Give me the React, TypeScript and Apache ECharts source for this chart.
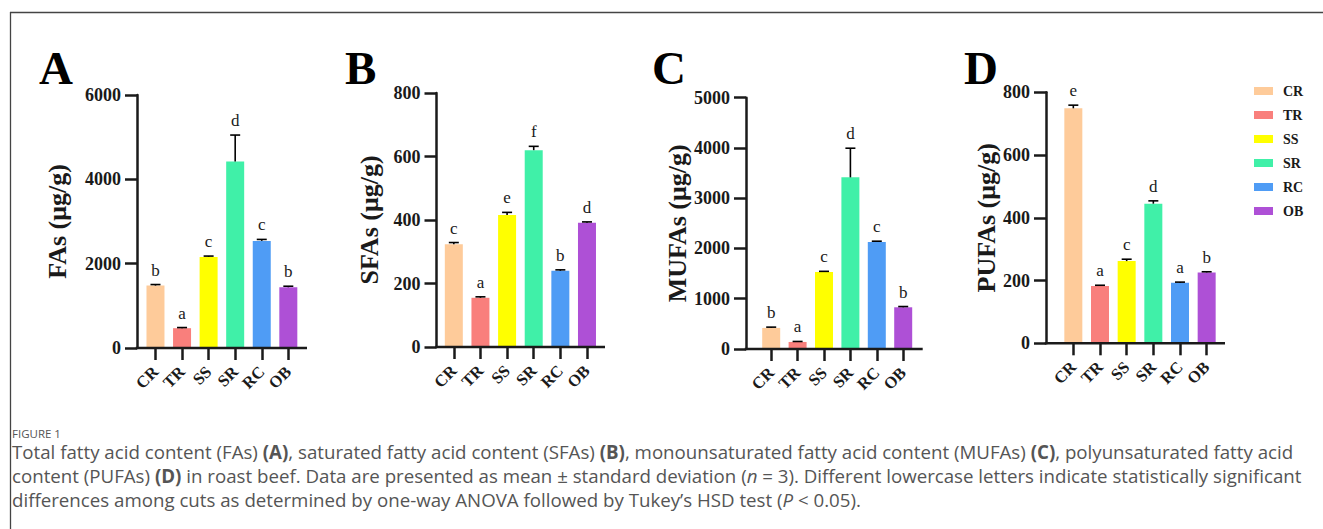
import React, { useEffect, useRef } from "react";
import * as echarts from "echarts";

const categories = ["CR", "TR", "SS", "SR", "RC", "OB"];
const barColors = ["#FECB9A", "#F97F7C", "#FFFF00", "#40F0A8", "#4F9CF5", "#AE50D6"];

const faMeans = [1480, 470, 2160, 4420, 2540, 1440];
const faErrs = [25, 15, 20, 630, 35, 25];
const faLetters = ["b", "a", "c", "d", "c", "b"];

const sfaMeans = [324, 155, 416, 620, 240, 391];
const sfaErrs = [5, 3, 8, 12, 3, 3];
const sfaLetters = ["c", "a", "e", "f", "b", "d"];

const mufaMeans = [420, 140, 1530, 3415, 2130, 830];
const mufaErrs = [15, 10, 15, 580, 15, 15];
const mufaLetters = ["b", "a", "c", "d", "c", "b"];

const pufaMeans = [749, 183, 262, 445, 193, 226];
const pufaErrs = [10, 2, 6, 9, 2, 2];
const pufaLetters = ["e", "a", "c", "d", "a", "b"];

const panelTags = ["A", "B", "C", "D"];
const axisNames = ["FAs (μg/g)", "SFAs (μg/g)", "MUFAs (μg/g)", "PUFAs (μg/g)"];
const axisMax = [6000, 800, 5000, 800];
const axisInterval = [2000, 200, 1000, 200];

const captionTitle = "FIGURE 1";
const captionLines = [
  "{n|Total fatty acid content (FAs) }{b|(A)}{n|, saturated fatty acid content (SFAs) }{b|(B)}{n|, monounsaturated fatty acid content (MUFAs) }{b|(C)}{n|, polyunsaturated fatty acid}",
  "{n|content (PUFAs) }{b|(D)}{n| in roast beef. Data are presented as mean ± standard deviation (}{i|n}{n| = 3). Different lowercase letters indicate statistically significant}",
  "{n|differences among cuts as determined by one-way ANOVA followed by Tukey’s HSD test (}{i|P}{n| < 0.05).}",
];

const panelData = [
  { means: faMeans, errs: faErrs, letters: faLetters },
  { means: sfaMeans, errs: sfaErrs, letters: sfaLetters },
  { means: mufaMeans, errs: mufaErrs, letters: mufaLetters },
  { means: pufaMeans, errs: pufaErrs, letters: pufaLetters },
];

// layout (pixels)
const layouts = [
  { axisX: 137, left: 142.2, width: 159.4, top: 95, bottom: 348, end: 307, nameGap: 67, tagX: 39 },
  { axisX: 436.5, left: 440.5, width: 159.8, top: 93, bottom: 347, end: 605, nameGap: 54, tagX: 345 },
  { axisX: 746, left: 758, width: 158.4, top: 97.7, bottom: 349, end: 922.7, nameGap: 56, tagX: 652 },
  { axisX: 1046, left: 1060, width: 160, top: 92.3, bottom: 343.3, end: 1225, nameGap: 44, tagX: 964 },
];

const SERIF = "'Liberation Serif', 'Times New Roman', serif";
const SANS = "'Open Sans', 'Noto Sans', sans-serif";
const INK = "#1a1a1a";
const CAP = "#555555";

export default function App() {
  const ref = useRef<HTMLDivElement>(null);

  useEffect(() => {
    document.body.style.margin = "0";
    if (!ref.current) return;
    const chart = echarts.init(ref.current, undefined, { renderer: "svg" });

    const grids: any[] = [];
    const xAxes: any[] = [];
    const yAxes: any[] = [];
    const series: any[] = [];
    const graphics: any[] = [];

    layouts.forEach((L, i) => {
      grids.push({ left: L.left, top: L.top, width: L.width, height: L.bottom - L.top, containLabel: false });
      xAxes.push({
        type: "category",
        gridIndex: i,
        data: categories,
        axisLine: { show: false },
        axisTick: { show: true, alignWithLabel: true, length: 12, lineStyle: { color: INK, width: 2.5 } },
        axisLabel: {
          interval: 0,
          rotate: 45,
          margin: 21,
          color: INK,
          fontFamily: SERIF,
          fontWeight: "bold",
          fontSize: 16.5,
        },
        splitLine: { show: false },
      });
      yAxes.push({
        type: "value",
        gridIndex: i,
        min: 0,
        max: axisMax[i],
        interval: axisInterval[i],
        offset: L.left - L.axisX,
        name: axisNames[i],
        nameLocation: "middle",
        nameRotate: 90,
        nameGap: L.nameGap,
        nameTextStyle: { color: INK, fontFamily: SERIF, fontWeight: "bold", fontSize: 26 },
        axisLine: { show: true, lineStyle: { color: INK, width: 2.5 } },
        axisTick: { show: true, length: 12, lineStyle: { color: INK, width: 2.5 } },
        axisLabel: {
          margin: 16,
          color: INK,
          fontFamily: SERIF,
          fontWeight: "bold",
          fontSize: 18,
          formatter: (v: number) => String(v),
        },
        splitLine: { show: false },
      });

      const pd = panelData[i];
      categories.forEach((c, j) => {
        series.push({
          type: "bar",
          name: c,
          xAxisIndex: i,
          yAxisIndex: i,
          barWidth: 18,
          barGap: "-100%",
          itemStyle: { color: barColors[j] },
          data: categories.map((_, k) => (k === j ? pd.means[k] : "-")),
        });
      });
      series.push({
        type: "custom",
        xAxisIndex: i,
        yAxisIndex: i,
        encode: { x: 0, y: 1 },
        data: categories.map((_, k) => [k, pd.means[k], pd.errs[k]]),
        z: 5,
        renderItem: (params: any, api: any) => {
          const idx = api.value(0);
          const m = api.value(1);
          const e = api.value(2);
          const base = api.coord([idx, m]);
          const top = api.coord([idx, m + e]);
          const letter = pd.letters[params.dataIndex];
          return {
            type: "group",
            children: [
              { type: "line", shape: { x1: base[0], y1: base[1], x2: top[0], y2: top[1] }, style: { stroke: "#000", lineWidth: 1.6 } },
              { type: "line", shape: { x1: top[0] - 5, y1: top[1], x2: top[0] + 5, y2: top[1] }, style: { stroke: "#000", lineWidth: 1.6 } },
              {
                type: "text",
                x: top[0],
                y: top[1] - 6,
                style: {
                  text: letter,
                  fill: INK,
                  fontFamily: SERIF,
                  fontSize: 17,
                  align: "center",
                  verticalAlign: "bottom",
                  textAlign: "center",
                  textVerticalAlign: "bottom",
                },
              },
            ],
          };
        },
      });

      // x axis line (extends a little past the bars on each side)
      graphics.push({
        type: "line",
        shape: { x1: L.axisX - 1.25, y1: L.bottom, x2: L.end, y2: L.bottom },
        style: { stroke: INK, lineWidth: 2.5 },
        z: 10,
      });
      graphics.push({
        type: "text",
        x: L.tagX,
        y: 67.5,
        style: {
          text: panelTags[i],
          fill: "#000",
          fontFamily: SERIF,
          fontWeight: "bold",
          fontSize: 47,
          align: "left",
          verticalAlign: "middle",
          textAlign: "left",
          textVerticalAlign: "middle",
        },
      });
    });

    // figure frame
    graphics.push({ type: "line", shape: { x1: 10, y1: 12.5, x2: 1323, y2: 12.5 }, style: { stroke: "#444", lineWidth: 1.3 } });
    graphics.push({ type: "line", shape: { x1: 10.5, y1: 12, x2: 10.5, y2: 529 }, style: { stroke: "#444", lineWidth: 1.3 } });

    // caption
    graphics.push({
      type: "text",
      x: 12,
      y: 433,
      style: {
        text: captionTitle,
        fill: "#555",
        fontFamily: SANS,
        fontSize: 11.5,
        align: "left",
        verticalAlign: "middle",
        textAlign: "left",
        textVerticalAlign: "middle",
      },
    });
    captionLines.forEach((line, k) => {
      graphics.push({
        type: "text",
        x: 12,
        y: 451 + k * 24,
        style: {
          text: line,
          align: "left",
          verticalAlign: "middle",
          textAlign: "left",
          textVerticalAlign: "middle",
          rich: {
            n: { fill: CAP, fontFamily: SANS, fontSize: 18.7 },
            b: { fill: CAP, fontFamily: SANS, fontSize: 18.7, fontWeight: "bold" },
            i: { fill: CAP, fontFamily: SANS, fontSize: 18.7, fontStyle: "italic" },
          },
        },
      });
    });

    chart.setOption({
      animation: false,
      backgroundColor: "#fff",
      legend: {
        data: categories,
        orient: "vertical",
        left: 1254,
        top: 84,
        padding: 0,
        itemWidth: 19,
        itemHeight: 8,
        itemGap: 10,
        icon: "rect",
        selectedMode: false,
        textStyle: {
          color: INK,
          fontFamily: SERIF,
          fontWeight: "bold",
          fontSize: 14,
          lineHeight: 14,
          padding: [0, 0, 0, 5],
        },
      },
      grid: grids,
      xAxis: xAxes,
      yAxis: yAxes,
      series,
      graphic: graphics,
    });

    return () => {
      chart.dispose();
    };
  }, []);

  return <div ref={ref} style={{ width: 1323, height: 529 }} />;
}
